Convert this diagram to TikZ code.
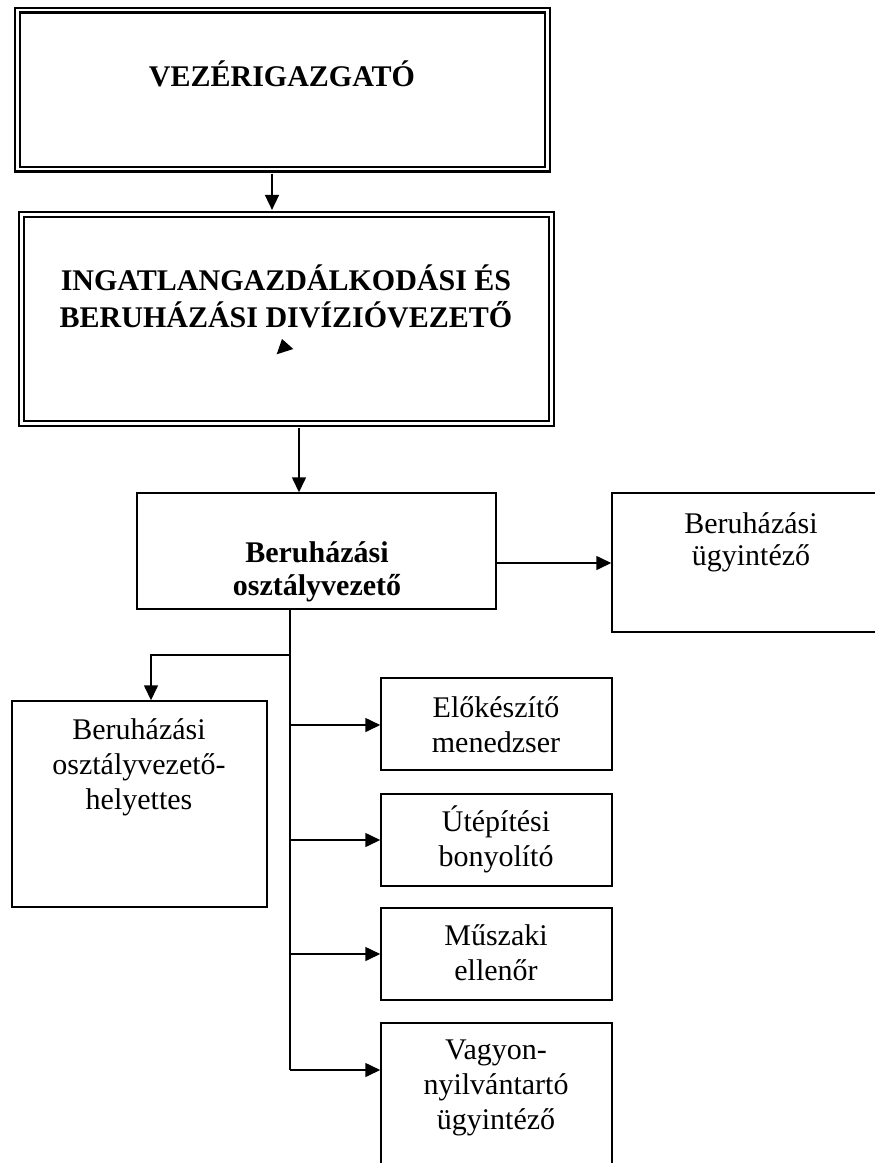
\documentclass[tikz,border=0pt]{standalone}
\usepackage{fontspec}
\setmainfont{Liberation Serif}
\usetikzlibrary{arrows.meta,calc}
\begin{document}
\begin{tikzpicture}[x=1pt,y=-1pt,
  dblbox/.style={draw, rectangle, line width=2.2pt, double, double distance=2.6pt, inner sep=0pt},
  onebox/.style={draw, rectangle, line width=1.5pt, inner sep=0pt},
  lbl/.style={anchor=base, inner sep=0pt, font=\fontsize{30}{35}\selectfont},
  ln/.style={line width=1.6pt},
  arr/.style={line width=1.6pt, -{Triangle[length=15pt,width=14pt]}}]
\useasboundingbox (0,0) rectangle (875,1163);
\fill[white] (0,0) rectangle (875,1163);
\clip (0,0) rectangle (875,1163);
% boxes
\node[dblbox, minimum width=530pt, minimum height=159pt] (vezer) at (282.5,89.5) {};
\node[dblbox, minimum width=530pt, minimum height=209pt] (divizio) at (286.5,319) {};
\node[onebox, minimum width=359pt, minimum height=116pt] (osztvez) at (316.5,551) {};
\node[onebox, minimum width=278pt, minimum height=139pt] (ugyint) at (751,562.5) {};
\node[onebox, minimum width=255pt, minimum height=206pt] (helyettes) at (139.5,804) {};
\node[onebox, minimum width=231pt, minimum height=92pt] (elok) at (496.5,724) {};
\node[onebox, minimum width=231pt, minimum height=92pt] (utep) at (496.5,840) {};
\node[onebox, minimum width=231pt, minimum height=92pt] (musz) at (496.5,954) {};
\node[onebox, minimum width=231pt, minimum height=160pt] (vagy) at (496.5,1103) {};
% texts
\node[lbl, font=\fontsize{30}{35}\selectfont\bfseries] (t-vezer) at (282,86) {VEZÉRIGAZGATÓ};
\node[lbl, font=\fontsize{30}{37}\selectfont\bfseries] (t-divizio) at (286,290)
  {\begin{tabular}[t]{@{}c@{}}INGATLANGAZDÁLKODÁSI ÉS\\ BERUHÁZÁSI DIVÍZIÓVEZETŐ\end{tabular}};
\node[lbl, font=\fontsize{30}{33}\selectfont\bfseries] (t-osztvez) at (317,562)
  {\begin{tabular}[t]{@{}c@{}}Beruházási\\ osztályvezető\end{tabular}};
\node[lbl, font=\fontsize{30}{32}\selectfont] (t-ugyint) at (751,533)
  {\begin{tabular}[t]{@{}c@{}}Beruházási\\ ügyintéző\end{tabular}};
\node[lbl] (t-helyettes) at (139,739)
  {\begin{tabular}[t]{@{}c@{}}Beruházási\\ osztályvezető-\\ helyettes\end{tabular}};
\node[lbl] (t-elok) at (496,717)
  {\begin{tabular}[t]{@{}c@{}}Előkészítő\\ menedzser\end{tabular}};
\node[lbl] (t-utep) at (496,831)
  {\begin{tabular}[t]{@{}c@{}}Útépítési\\ bonyolító\end{tabular}};
\node[lbl] (t-musz) at (496,945)
  {\begin{tabular}[t]{@{}c@{}}Műszaki\\ ellenőr\end{tabular}};
\node[lbl] (t-vagy) at (496,1059)
  {\begin{tabular}[t]{@{}c@{}}Vagyon-\\ nyilvántartó\\ ügyintéző\end{tabular}};
% stray arrowhead inside the second box
\fill (282,339) -- (276.7,354.3) -- (293.3,349) -- cycle;
% connectors
\draw[arr] ($(vezer.south)+(-10.5,3.5)$) -- ($(vezer.south |- divizio.north)+(-10.5,-3.5)$);
\draw[arr] ($(divizio.south)+(12.5,3.5)$) -- ($(divizio.south |- osztvez.north)+(12.5,0)$);
\draw[arr] ($(osztvez.east)+(0,12)$) -- ($(ugyint.west)+(0,0.5)$);
\coordinate (trunktop) at ($(osztvez.south)+(-26.5,0)$);
\coordinate (trunkbot) at (trunktop |- 0,1070);
\coordinate (split) at (trunktop |- 0,655);
\draw[ln] (trunktop) -- (trunkbot);
\draw[arr] (split) -| ($(helyettes.north)+(11.5,0)$);
\draw[arr] ($(trunktop |- elok.west)+(0,1)$) -- ($(elok.west)+(0,1)$);
\draw[arr] (trunktop |- utep.west) -- (utep.west);
\draw[arr] (trunktop |- musz.west) -- (musz.west);
\draw[arr] (trunkbot) -- (trunkbot -| vagy.west);
\end{tikzpicture}
\end{document}
